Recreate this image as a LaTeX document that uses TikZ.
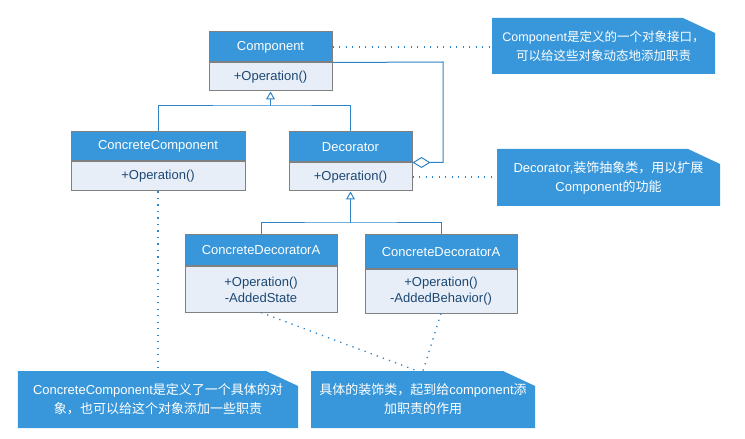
\documentclass[tikz,border=0pt]{standalone}
\usepackage{fontspec}
\setmainfont{Liberation Sans}
\newfontfamily\cjk{Noto Sans CJK SC}
\newcommand{\zh}[1]{{\cjk #1}}
\usetikzlibrary{positioning,arrows.meta}

\definecolor{headblue}{RGB}{56,151,218}
\definecolor{bodyblue}{RGB}{232,238,248}
\definecolor{boxgray}{RGB}{128,128,128}
\definecolor{opblue}{RGB}{28,72,115}
\definecolor{lineblue}{RGB}{46,132,198}

\tikzset{
	classhead/.style={rectangle,draw=boxgray,line width=1bp,fill=headblue,text=white,inner sep=0pt,
		font=\fontsize{13bp}{16bp}\selectfont},
	classbody/.style={rectangle,draw=boxgray,line width=1bp,fill=bodyblue,text=opblue,inner sep=0pt,
		align=center,font=\fontsize{13bp}{16bp}\selectfont},
	note/.style={rectangle,inner sep=0pt,text=white,align=center,
		font=\fontsize{13bp}{19bp}\selectfont,
		path picture={\fill[headblue] (path picture bounding box.north west)
			-- ([xshift=-32bp]path picture bounding box.north east)
			-- ([yshift=-15bp]path picture bounding box.north east)
			-- (path picture bounding box.south east)
			-- (path picture bounding box.south west) -- cycle;}},
	link/.style={draw=lineblue,line width=1bp},
	comment/.style={draw=lineblue,line width=1.3bp,dash pattern=on 1.3bp off 5.2bp},
	inherit/.style={-{Triangle[open,length=8bp,width=9bp]}},
	aggregate/.style={-{Diamond[open,length=18bp,width=11bp]}}
}

\begin{document}
\begin{tikzpicture}[x=1bp,y=-1bp]
	\useasboundingbox (0,0) rectangle (745,439);

	% classes
	\node[classhead,minimum width=123bp,minimum height=30bp] (comphead) at (270.5,47) {Component};
	\node[classbody,minimum width=123bp,minimum height=28bp,below=0pt of comphead] (compbody) {+Operation()};

	\node[classhead,minimum width=174bp,minimum height=29bp] (cchead) at (158,146.5) {ConcreteComponent};
	\node[classbody,minimum width=174bp,minimum height=29bp,below=0pt of cchead] (ccbody) {+Operation()};

	\node[classhead,minimum width=123bp,minimum height=30bp] (dechead) at (350.5,147) {Decorator};
	\node[classbody,minimum width=123bp,minimum height=28bp,below=0pt of dechead] (decbody) {+Operation()};

	\node[classhead,minimum width=152bp,minimum height=31bp] (cdahead) at (261,250.5) {ConcreteDecoratorA};
	\node[classbody,minimum width=152bp,minimum height=45bp,below=0pt of cdahead] (cdabody) {+Operation()\\-AddedState};

	\node[classhead,minimum width=152bp,minimum height=34bp] (cdbhead) at (441,252) {ConcreteDecoratorA};
	\node[classbody,minimum width=152bp,minimum height=43bp,below=0pt of cdbhead] (cdbbody) {+Operation()\\-AddedBehavior()};

	% notes
	\node[note,minimum width=223bp,minimum height=56bp,font=\fontsize{12.5bp}{19bp}\selectfont] (n1) at (603.5,46)
		{Component\zh{是定义的一个对象接口，}\\\zh{可以给这些对象动态地添加职责}};
	\node[note,minimum width=223bp,minimum height=57bp] (n2) at (608.5,177.5)
		{Decorator,\zh{装饰抽象类，用以扩展}\\Component\zh{的功能}};
	\node[note,minimum width=280bp,minimum height=57bp] (n3) at (158,399.5)
		{ConcreteComponent\zh{是定义了一个具体的对}\\\zh{象，也可以给这个对象添加一些职责}};
	\node[note,minimum width=224bp,minimum height=57bp] (n4) at (423,399.5)
		{\zh{具体的装饰类，起到给}component\zh{添}\\\zh{加职责的作用}};

	% connectors
	\coordinate (upj) at (270.5,106);
	\coordinate (dnj) at (350.5,223);
	\coordinate (aggc) at (443,62);

	\draw[link] (cchead.north) |- (upj) -| (dechead.north);
	\draw[link,inherit] (upj) -- (compbody.south);
	\draw[link] (cdahead.north) |- (dnj) -| (cdbhead.north);
	\draw[link,inherit] (dnj) -- (decbody.south);
	\draw[link,aggregate] (comphead.south east) -- (aggc) |- (dechead.south east);

	\draw[comment] (comphead.east) -- (comphead.east -| n1.west);
	\draw[comment] (decbody.east) -- (decbody.east -| n2.west);
	\draw[comment] (ccbody.south) -- (n3.north);
	\draw[comment] (cdabody.south) -- ([xshift=-6bp]n4.north);
	\draw[comment] (cdbbody.south) -- (n4.north);

\end{tikzpicture}
\end{document}
